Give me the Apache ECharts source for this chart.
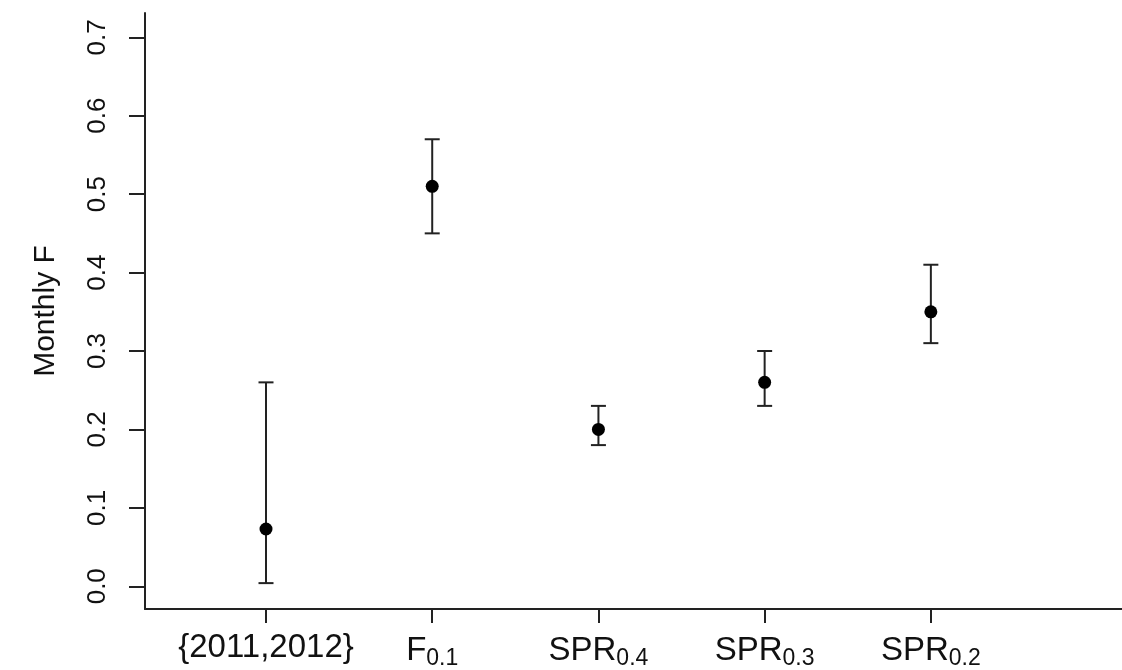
<!DOCTYPE html>
<html>
<head>
<meta charset="utf-8">
<script src="https://cdn.jsdelivr.net/npm/echarts@6/dist/echarts.min.js"></script>
<style>
  html, body { margin: 0; background: #fff; }
  #main { width: 1122px; height: 670px; }
</style>
</head>
<body>
<div id="main"></div>
<script>
// reference points, main label + subscript
var labels = ['{2011,2012}', 'F', 'SPR', 'SPR', 'SPR'];
var subs = ['', '0.1', '0.4', '0.3', '0.2'];
var estimate = [0.073, 0.51, 0.20, 0.26, 0.35];
var lower = [0.004, 0.45, 0.18, 0.23, 0.31];
var upper = [0.26, 0.57, 0.23, 0.30, 0.41];
var yTicks = [0, 0.1, 0.2, 0.3, 0.4, 0.5, 0.6, 0.7];

var xPos = labels.map(function (d, i) { return i + 1; });

var pointData = [];
var barData = [];
for (let i = 0; i < labels.length; i++) {
  pointData.push([xPos[i], estimate[i]]);
  barData.push([xPos[i], lower[i], upper[i]]);
}

var ink = '#222';
var font = 'Liberation Sans, Arial, sans-serif';

var myChart = echarts.init(document.getElementById('main'));

var option = {
  animation: false,
  backgroundColor: '#fff',
  grid: { left: 145, top: 13, bottom: 59, right: 0 },
  xAxis: {
    type: 'value',
    min: 0.272,
    max: 6.15,
    splitLine: { show: false },
    axisLine: { onZero: false, lineStyle: { color: ink, width: 2 } },
    axisTick: { customValues: xPos, length: 14, lineStyle: { color: ink, width: 2 } },
    axisLabel: {
      customValues: xPos,
      color: '#111',
      fontFamily: font,
      fontSize: 33,
      margin: 22,
      formatter: function (v) {
        let i = Math.round(v) - 1;
        return subs[i] ? labels[i] + '{s|' + subs[i] + '}' : labels[i];
      },
      rich: {
        s: { fontSize: 23, fontFamily: font, color: '#111', verticalAlign: 'top', padding: [16, 0, 0, 0] }
      }
    }
  },
  yAxis: {
    type: 'value',
    min: -0.029,
    max: 0.731,
    name: 'Monthly F',
    nameLocation: 'middle',
    nameGap: 84,
    nameTextStyle: { fontFamily: font, fontSize: 30, color: '#111' },
    splitLine: { show: false },
    axisLine: { show: true, onZero: false, lineStyle: { color: ink, width: 2 } },
    axisTick: { show: true, customValues: yTicks, length: 16, lineStyle: { color: ink, width: 2 } },
    axisLabel: {
      customValues: yTicks,
      rotate: 90,
      margin: 34,
      color: '#111',
      fontFamily: font,
      fontSize: 26,
      formatter: function (v) { return v.toFixed(1); }
    }
  },
  series: [
    {
      type: 'custom',
      data: barData,
      renderItem: function (params, api) {
        let x = api.value(0);
        let lo = api.coord([x, api.value(1)]);
        let hi = api.coord([x, api.value(2)]);
        let w = 7.5;
        let style = { stroke: ink, lineWidth: 2 };
        return {
          type: 'group',
          children: [
            { type: 'line', shape: { x1: lo[0], y1: lo[1], x2: hi[0], y2: hi[1] }, style: style },
            { type: 'line', shape: { x1: lo[0] - w, y1: lo[1], x2: lo[0] + w, y2: lo[1] }, style: style },
            { type: 'line', shape: { x1: hi[0] - w, y1: hi[1], x2: hi[0] + w, y2: hi[1] }, style: style }
          ]
        };
      }
    },
    {
      type: 'scatter',
      data: pointData,
      symbol: 'circle',
      symbolSize: 13,
      itemStyle: { color: '#000', opacity: 1 }
    }
  ]
};

myChart.setOption(option);
</script>
</body>
</html>
